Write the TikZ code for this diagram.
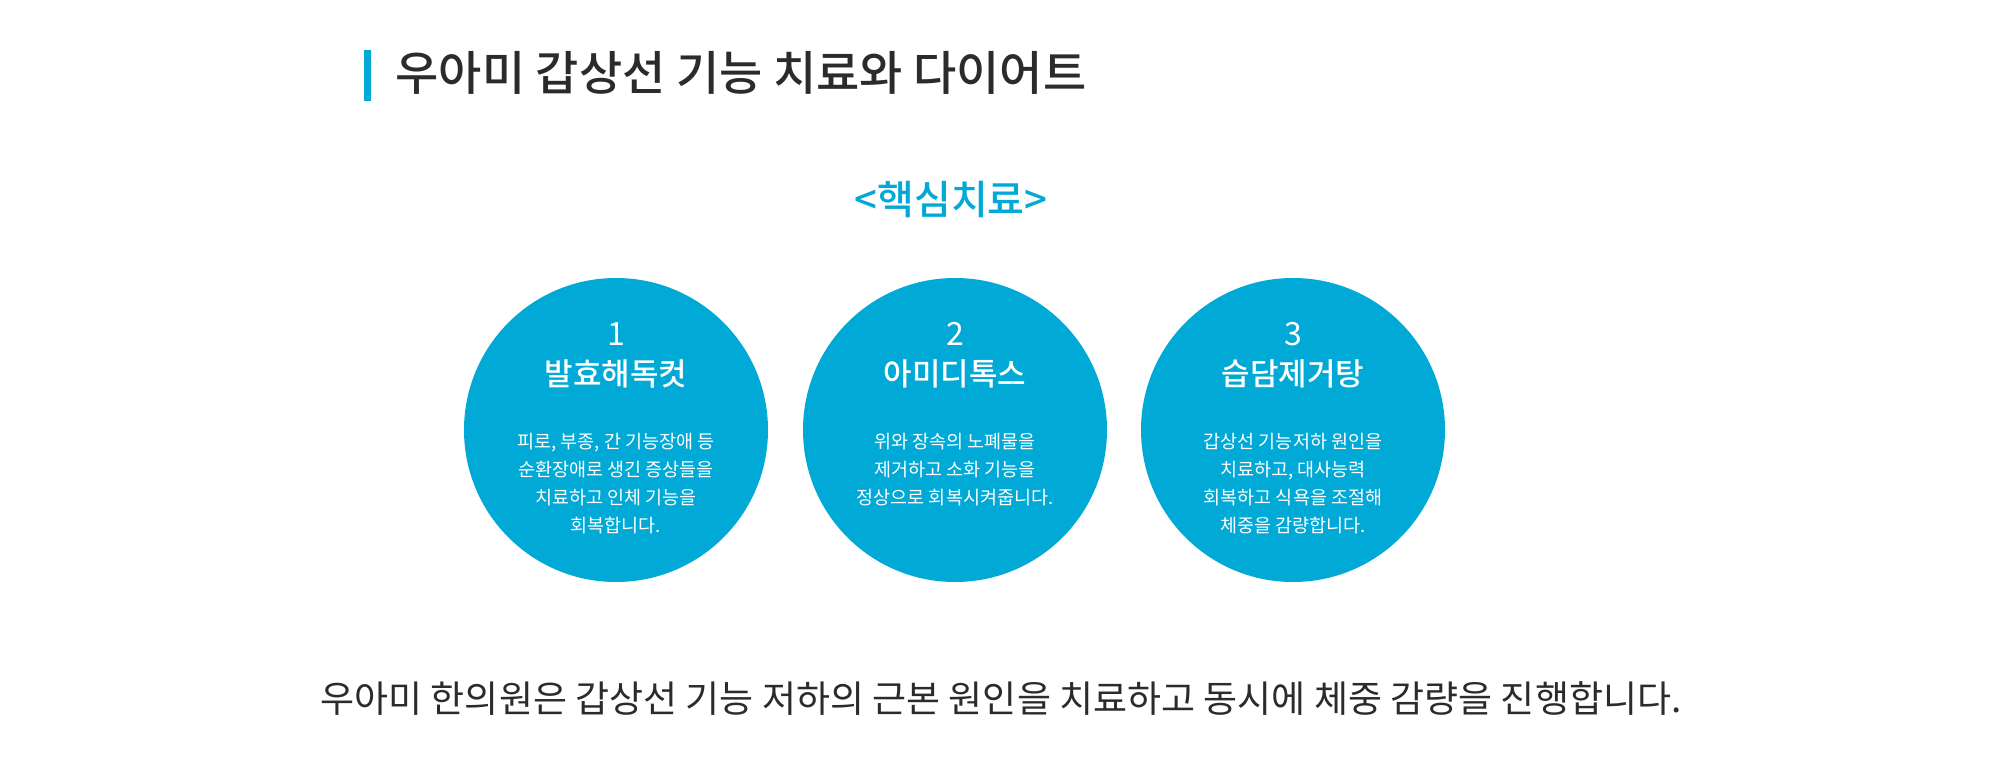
\documentclass[tikz,border=0pt]{standalone}
\usepackage{fontspec}
\setmainfont{Noto Sans CJK KR}
\newfontfamily\kbold{Noto Sans CJK KR Medium}
\definecolor{sky}{HTML}{00A9D6}
\definecolor{ink}{HTML}{2B2B2B}
\tikzset{
 circ/.style={circle,fill=sky,minimum size=304pt,inner sep=0pt},
 num/.style={text=white,font=\fontsize{32}{36}\selectfont},
 ctitle/.style={text=white,font=\kbold\fontsize{31}{36}\selectfont},
 body/.style={text=white,align=center,font=\fontsize{18.5}{28}\selectfont},
}
\begin{document}
\begin{tikzpicture}[x=1pt,y=-1pt]
\useasboundingbox (0,0) rectangle (2000,781);
\fill[sky] (364,50) rectangle (371,101);
\node[anchor=west,text=ink,font=\kbold\fontsize{47}{52}\selectfont] (title) at (392,73) {우아미 갑상선 기능 치료와 다이어트};
\node[text=sky,font=\kbold\fontsize{40}{46}\selectfont] (sub) at (951,200) {<핵심치료>};
\foreach \i/\x/\n/\t/\b in {
 a/616/1/발효해독컷/{피로, 부종, 간 기능장애 등\\순환장애로 생긴 증상들을\\치료하고 인체 기능을\\회복합니다.},
 b/955/2/아미디톡스/{위와 장속의 노폐물을\\제거하고 소화 기능을\\정상으로 회복시켜줍니다.},
 c/1293/3/습담제거탕/{갑상선 기능저하 원인을\\치료하고, 대사능력\\회복하고 식욕을 조절해\\체중을 감량합니다.}}{
 \node[circ] (c\i) at (\x,430) {};
 \node[num] (n\i) at (\x,334) {\n};
 \node[ctitle] (t\i) at (\x,374) {\t};
 \node[body,anchor=north] (b\i) at (\x,430) {\b};
}
\node[text=ink,font=\fontsize{37}{42}\selectfont] (foot) at (1001,699) {우아미 한의원은 갑상선 기능 저하의 근본 원인을 치료하고 동시에 체중 감량을 진행합니다.};
\end{tikzpicture}
\end{document}
